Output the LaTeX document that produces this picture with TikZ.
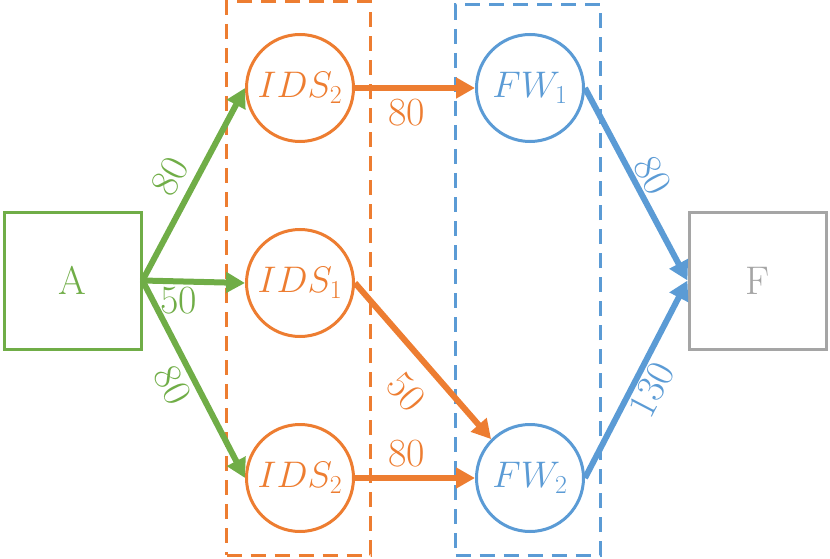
\RequirePackage{fix-cm}
\documentclass[tikz,border=0pt]{standalone}
\usetikzlibrary{arrows.meta}
\definecolor{cgreen}{HTML}{70AD47}
\definecolor{corange}{HTML}{ED7D31}
\definecolor{cblue}{HTML}{5B9BD5}
\definecolor{cgray}{HTML}{A5A5A5}
\begin{document}
\begin{tikzpicture}[x=1pt,y=-1pt,
  every node/.style={font=\fontsize{40}{44}\selectfont},
  box/.style={draw, line width=3pt, minimum size=137pt, inner sep=0pt},
  circ/.style={draw, circle, line width=3pt, minimum size=107pt, inner sep=0pt, font=\fontsize{37}{40}\selectfont},
  grp/.style={draw, line width=3pt, dash pattern=on 15pt off 9pt, inner sep=0pt},
  arr/.style={line width=6pt, -{Triangle[length=19pt,width=20pt]}}]
\useasboundingbox (0,0) rectangle (830,559);
% groups
\node[grp, draw=corange, minimum width=144pt, minimum height=553.5pt] (og) at (298.5,278.25) {};
\node[grp, draw=cblue, minimum width=145pt, minimum height=550pt] (bg) at (528,280) {};
% nodes
\node[box, cgreen] (A) at (72.5,280.5) {A};
\node[box, cgray] (F) at (757.5,280.5) {F};
\node[circ, corange] (i2t) at (300,88) {$IDS_2$};
\node[circ, corange] (i1) at (300,283) {$IDS_1$};
\node[circ, corange] (i2b) at (300,478) {$IDS_2$};
\node[circ, cblue] (f1) at (530,88) {$FW_1$};
\node[circ, cblue] (f2) at (530,478) {$FW_2$};
% green
\draw[arr, cgreen] (A.east) -- node[pos=0.48, sloped, above, inner sep=8pt] {80} (i2t.west);
\draw[arr, cgreen] (A.east) -- node[pos=0.35, below, inner sep=3pt] {50} (i1.west);
\draw[arr, cgreen] (A.east) -- node[pos=0.48, sloped, below, inner sep=5pt] {80} (i2b.west);
% orange
\draw[arr, corange] (i2t.east) -- node[pos=0.43, below, inner sep=8pt] {80} (f1.west);
\draw[arr, corange] (i1.east) -- node[pos=0.56, sloped, below, inner sep=16pt] {50} (f2.north west);
\draw[arr, corange] (i2b.east) -- node[pos=0.43, above, inner sep=8pt] {80} (f2.west);
% blue
\draw[arr, cblue] (f1.east) -- node[pos=0.5, sloped, above, inner sep=2pt] {80} (F.west);
\draw[arr, cblue] (f2.east) -- node[pos=0.49, sloped, below, inner sep=2pt] {130} (F.west);
\end{tikzpicture}
\end{document}
